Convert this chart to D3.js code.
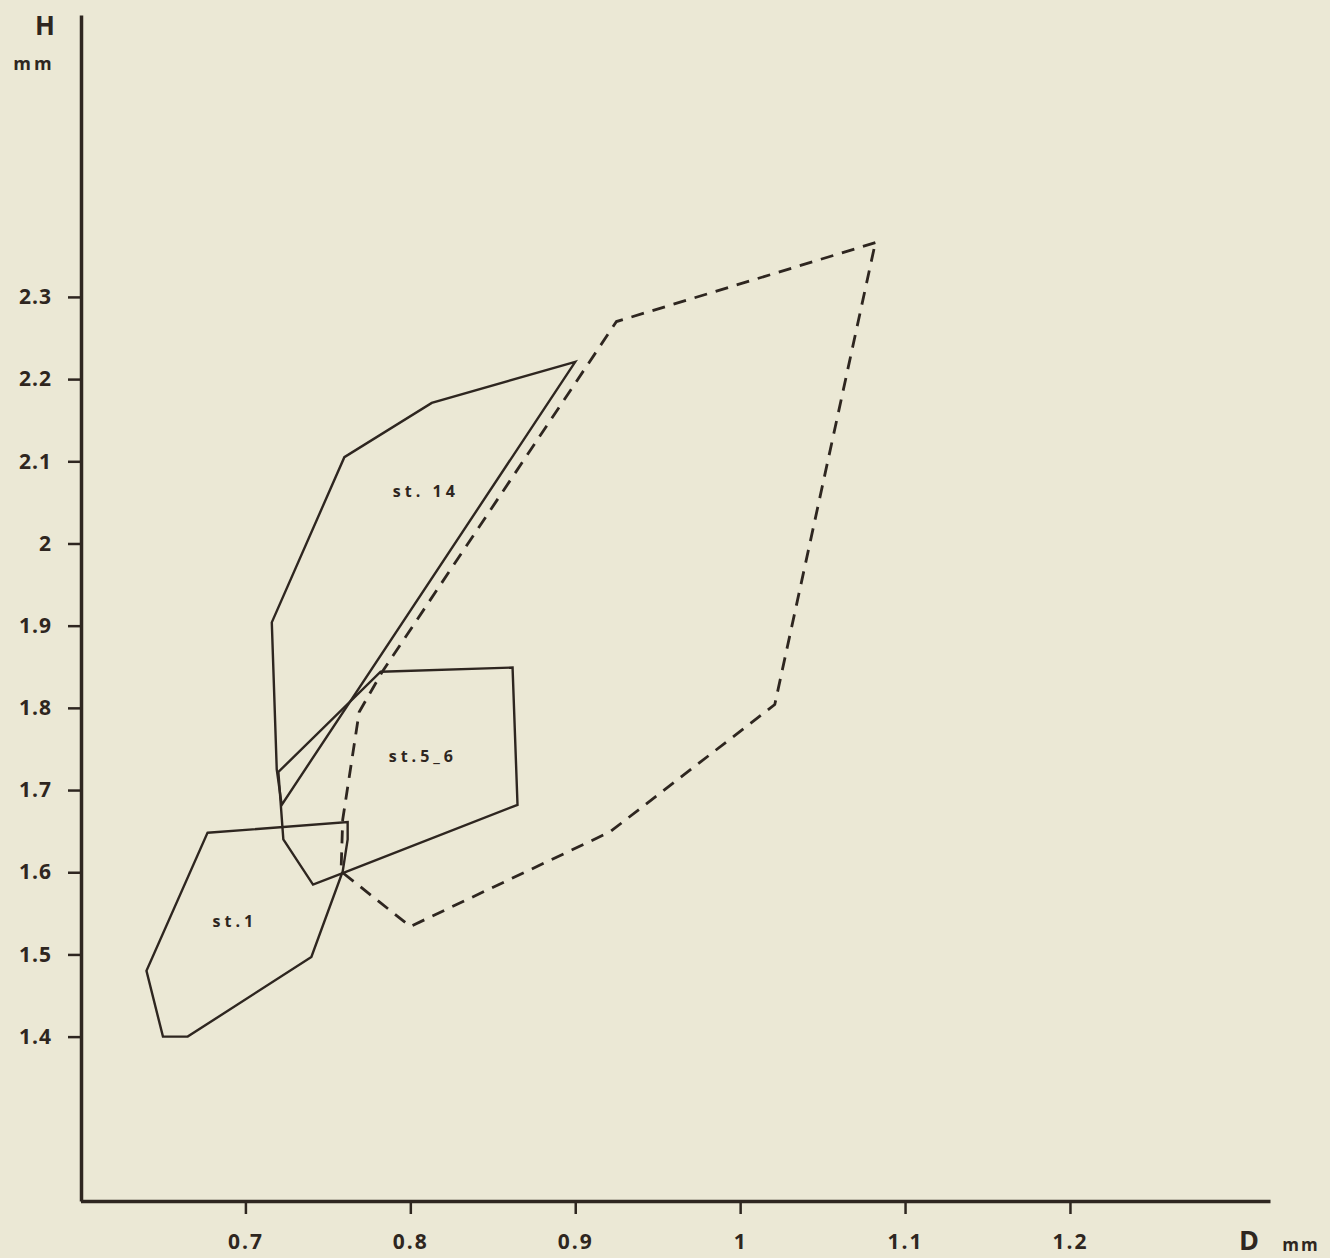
<!DOCTYPE html>
<html>
<head>
<meta charset="utf-8">
<script src="https://cdn.jsdelivr.net/npm/d3@7"></script>
<style>
  html, body { margin: 0; padding: 0; background: #ebe8d5; }
  svg { display: block; }
  text { font-family: "Open Sans", "DejaVu Sans", sans-serif; font-weight: 700; fill: #2e2620; }
</style>
</head>
<body>
<svg id="chart" width="1330" height="1258"></svg>
<script>
// ---- data (D = diameter mm, H = height mm) ----
const xTicks = [0.7, 0.8, 0.9, 1.0, 1.1, 1.2];
const xTickLabels = ["0.7", "0.8", "0.9", "1", "1.1", "1.2"];
const yTicks = [1.4, 1.5, 1.6, 1.7, 1.8, 1.9, 2.0, 2.1, 2.2, 2.3];
const yTickLabels = ["1.4", "1.5", "1.6", "1.7", "1.8", "1.9", "2", "2.1", "2.2", "2.3"];

const st14D = [0.900, 0.813, 0.760, 0.716, 0.719, 0.722];
const st14H = [2.221, 2.171, 2.105, 1.904, 1.725, 1.682];

const st56D = [0.782, 0.862, 0.865, 0.759, 0.741, 0.723, 0.720];
const st56H = [1.844, 1.849, 1.682, 1.599, 1.585, 1.640, 1.722];

const st1D = [0.677, 0.762, 0.762, 0.759, 0.740, 0.665, 0.650, 0.640];
const st1H = [1.648, 1.661, 1.640, 1.601, 1.497, 1.400, 1.400, 1.480];

const dashD = [1.082, 0.925, 0.783, 0.769, 0.759, 0.758, 0.800, 0.921, 1.021];
const dashH = [2.366, 2.270, 1.844, 1.795, 1.664, 1.601, 1.534, 1.649, 1.804];

const labelNames = ["st. 14", "st.5_6", "st.1"];
const labelD = [0.8094, 0.8076, 0.6936];
const labelH = [2.063, 1.7405, 1.540];

// ---- scales ----
const svg = d3.select("#chart");
const ink = "#2e2620";
const x = d3.scaleLinear().domain([0.6, 1.3213]).range([80.5, 1270]);
const y = d3.scaleLinear().domain([1.2, 2.643]).range([1201, 15]);

// ---- axes ----
const xAxis = d3.axisBottom(x).tickValues(xTicks)
  .tickFormat((d, i) => xTickLabels[i]).tickSize(13).tickSizeOuter(0).tickPadding(20);
const gx = svg.append("g").attr("transform", "translate(0,1201)").call(xAxis);
gx.select(".domain").attr("stroke", ink).attr("stroke-width", 3.5);
gx.selectAll(".tick line").attr("stroke", ink).attr("stroke-width", 2.5);
gx.selectAll(".tick text").attr("font-size", 21).attr("letter-spacing", "2px")
  .attr("font-family", "'Open Sans', sans-serif").attr("font-weight", 800).attr("fill", ink);

const yAxis = d3.axisLeft(y).tickValues(yTicks)
  .tickFormat((d, i) => yTickLabels[i]).tickSize(13).tickSizeOuter(0).tickPadding(16);
const gy = svg.append("g").attr("transform", "translate(81,0)").call(yAxis);
gy.select(".domain").attr("stroke", ink).attr("stroke-width", 3.5);
gy.selectAll(".tick line").attr("stroke", ink).attr("stroke-width", 2.5);
gy.selectAll(".tick text").attr("font-size", 21).attr("letter-spacing", "1px")
  .attr("font-family", "'Open Sans', sans-serif").attr("font-weight", 800).attr("fill", ink);

// axis titles
svg.append("text").attr("x", 45).attr("y", 35).attr("text-anchor", "middle")
  .attr("font-size", 26).text("H");
svg.append("text").attr("x", 34).attr("y", 70).attr("text-anchor", "middle")
  .attr("font-size", 18).attr("letter-spacing", "3px").text("mm");
svg.append("text").attr("x", 1249).attr("y", 1250).attr("text-anchor", "middle")
  .attr("font-size", 27).attr("font-weight", 600).text("D");
svg.append("text").attr("x", 1301).attr("y", 1251).attr("text-anchor", "middle")
  .attr("font-size", 17).attr("letter-spacing", "2px").text("mm");

// ---- polygons ----
const line = d3.line().x(d => x(d[0])).y(d => y(d[1])).curve(d3.curveLinearClosed);
function pts(D, H) { return D.map((d, i) => [d, H[i]]); }

const polys = [
  { p: pts(dashD, dashH), dash: "13,9", w: 2.8 },
  { p: pts(st14D, st14H), dash: null, w: 2.4 },
  { p: pts(st56D, st56H), dash: null, w: 2.4 },
  { p: pts(st1D, st1H), dash: null, w: 2.4 }
];
svg.append("g").selectAll("path").data(polys).join("path")
  .attr("d", d => line(d.p))
  .attr("fill", "none")
  .attr("stroke", ink)
  .attr("stroke-width", d => d.w)
  .attr("stroke-linejoin", "miter")
  .attr("stroke-dasharray", d => d.dash);

// ---- labels ----
svg.append("g").selectAll("text").data(labelNames).join("text")
  .attr("x", (d, i) => x(labelD[i]))
  .attr("y", (d, i) => y(labelH[i]))
  .attr("dy", "0.35em")
  .attr("text-anchor", "middle")
  .attr("font-size", 16)
  .attr("font-weight", 800)
  .attr("letter-spacing", "4px")
  .text(d => d);
</script>
</body>
</html>
